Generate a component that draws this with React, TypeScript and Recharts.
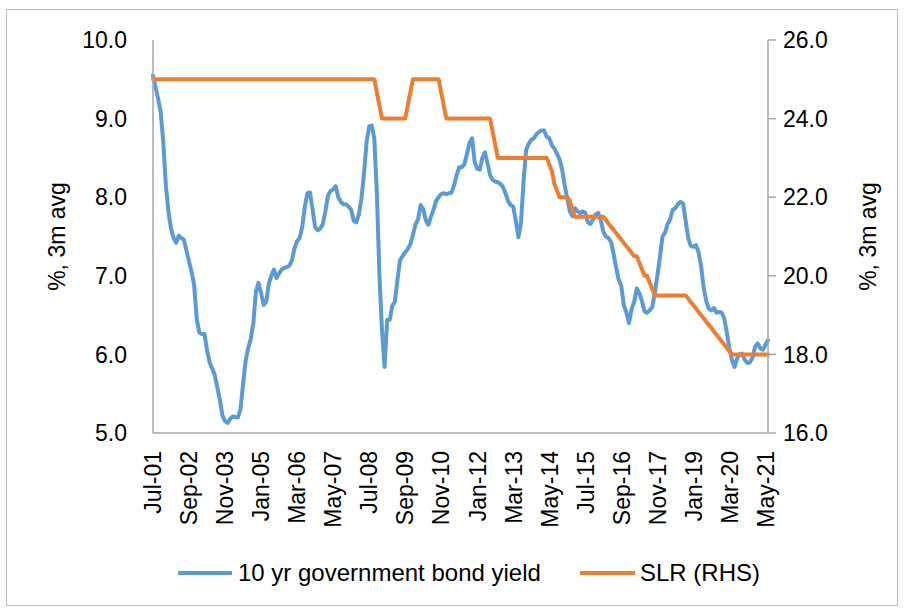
import React from 'react';
import { LineChart, Line, XAxis, YAxis } from 'recharts';

// Monthly categories Jul-01 .. Jun-21
const monthNames = ['Jan', 'Feb', 'Mar', 'Apr', 'May', 'Jun', 'Jul', 'Aug', 'Sep', 'Oct', 'Nov', 'Dec'];
const startYear = 2001;
const startMonth = 6; // July (0-based)
const monthCount = 240;
const categories: string[] = [];
for (let k = 0; k < monthCount; k++) {
  const m = (startMonth + k) % 12;
  const y = startYear + Math.floor((startMonth + k) / 12);
  categories.push(`${monthNames[m]}-${String(y % 100).padStart(2, '0')}`);
}

// 10 yr government bond yield, %, 3m avg
const bondYield: number[] = [
  9.55, 9.40, 9.25, 9.08, 8.70, 8.15, 7.82, 7.60, 7.48, 7.42, 7.51, 7.48,
  7.46, 7.32, 7.18, 7.05, 6.88, 6.45, 6.28, 6.26, 6.26, 6.05, 5.90, 5.82,
  5.74, 5.58, 5.42, 5.22, 5.15, 5.13, 5.18, 5.21, 5.20, 5.20, 5.30, 5.62,
  5.92, 6.08, 6.20, 6.40, 6.80, 6.91, 6.78, 6.63, 6.67, 6.90, 7.00, 7.08,
  6.97, 7.03, 7.08, 7.10, 7.11, 7.13, 7.20, 7.35, 7.44, 7.48, 7.62, 7.88,
  8.05, 8.06, 7.85, 7.62, 7.58, 7.60, 7.66, 7.82, 8.02, 8.08, 8.10, 8.14,
  8.00, 7.94, 7.91, 7.91, 7.88, 7.84, 7.70, 7.68, 7.78, 7.98, 8.30, 8.70,
  8.90, 8.91, 8.75, 8.05, 7.00, 6.30, 5.84, 6.44, 6.44, 6.62, 6.67, 6.95,
  7.20, 7.25, 7.30, 7.34, 7.40, 7.52, 7.65, 7.72, 7.90, 7.85, 7.71, 7.65,
  7.75, 7.84, 7.95, 8.00, 8.04, 8.05, 8.04, 8.05, 8.06, 8.15, 8.28, 8.38,
  8.38, 8.42, 8.55, 8.69, 8.75, 8.45, 8.36, 8.35, 8.50, 8.57, 8.43, 8.28,
  8.22, 8.20, 8.19, 8.17, 8.13, 8.05, 7.95, 7.90, 7.88, 7.70, 7.49, 7.67,
  8.20, 8.60, 8.68, 8.73, 8.75, 8.80, 8.83, 8.85, 8.85, 8.77, 8.75, 8.66,
  8.62, 8.55, 8.48, 8.35, 8.15, 7.98, 7.82, 7.76, 7.86, 7.82, 7.80, 7.82,
  7.80, 7.68, 7.66, 7.72, 7.78, 7.80, 7.71, 7.56, 7.50, 7.48, 7.43, 7.28,
  7.10, 6.95, 6.87, 6.62, 6.53, 6.40, 6.58, 6.67, 6.84, 6.78, 6.68, 6.55,
  6.53, 6.56, 6.60, 6.78, 7.00, 7.24, 7.50, 7.55, 7.66, 7.72, 7.84, 7.86,
  7.91, 7.94, 7.92, 7.70, 7.48, 7.38, 7.37, 7.39, 7.30, 7.12, 6.85, 6.68,
  6.58, 6.56, 6.59, 6.53, 6.54, 6.53, 6.46, 6.28, 6.08, 5.93, 5.84, 5.95,
  6.00, 6.01, 5.93, 5.89, 5.90, 5.96, 6.10, 6.14, 6.08, 6.06, 6.12, 6.18,
];

// SLR (RHS), %, 3m avg
const slrRate: number[] = [
  25, 25, 25, 25, 25, 25, 25, 25, 25, 25, 25, 25,
  25, 25, 25, 25, 25, 25, 25, 25, 25, 25, 25, 25,
  25, 25, 25, 25, 25, 25, 25, 25, 25, 25, 25, 25,
  25, 25, 25, 25, 25, 25, 25, 25, 25, 25, 25, 25,
  25, 25, 25, 25, 25, 25, 25, 25, 25, 25, 25, 25,
  25, 25, 25, 25, 25, 25, 25, 25, 25, 25, 25, 25,
  25, 25, 25, 25, 25, 25, 25, 25, 25, 25, 25, 25,
  25, 25, 25, 24.67, 24.33, 24, 24, 24, 24, 24, 24, 24,
  24, 24, 24, 24.33, 24.67, 25, 25, 25, 25, 25, 25, 25,
  25, 25, 25, 25, 24.67, 24.33, 24, 24, 24, 24, 24, 24,
  24, 24, 24, 24, 24, 24, 24, 24, 24, 24, 24, 24,
  23.67, 23.33, 23, 23, 23, 23, 23, 23, 23, 23, 23, 23,
  23, 23, 23, 23, 23, 23, 23, 23, 23, 23, 22.83, 22.67,
  22.33, 22.17, 22, 22, 22, 22, 21.9, 21.67, 21.5, 21.5, 21.5, 21.5,
  21.5, 21.5, 21.5, 21.5, 21.5, 21.5, 21.5, 21.5, 21.42, 21.33, 21.25, 21.17,
  21.08, 21.0, 20.92, 20.83, 20.75, 20.67, 20.58, 20.5, 20.5, 20.33, 20.17, 20.0,
  20.0, 19.83, 19.67, 19.5, 19.5, 19.5, 19.5, 19.5, 19.5, 19.5, 19.5, 19.5,
  19.5, 19.5, 19.5, 19.5, 19.42, 19.33, 19.25, 19.17, 19.08, 19.0, 18.92, 18.83,
  18.75, 18.67, 18.58, 18.5, 18.42, 18.33, 18.25, 18.17, 18.08, 18, 18, 18,
  18, 18, 18, 18, 18, 18, 18, 18, 18, 18, 18, 18,
];

const leftTicks = [5, 6, 7, 8, 9, 10];
const rightTicks = [16, 18, 20, 22, 24, 26];
const seriesNames = ['10 yr government bond yield', 'SLR (RHS)'];
const axisTitle = '%, 3m avg';

const BLUE = '#5B9BD5';
const ORANGE = '#ED7D31';
const AXIS = '#A6A6A6';
const FONT = "'Liberation Sans', Arial, sans-serif";
const FS = 23;
const LEGEND_FS = 24;

const data = categories.map((c, i) => ({ month: c, yield: bondYield[i], slr: slrRate[i] }));

const XTick = (props: any) => {
  const { x, y, payload } = props;
  return (
    <g transform={`translate(${x},${y})`}>
      <text x={0} y={0} dy="0.36em" transform="rotate(-90)" textAnchor="end" fill="#000" fontSize={FS} fontFamily={FONT}>
        {payload.value}
      </text>
    </g>
  );
};

const makeTitle = (dx: number) => (props: any) => {
  const vb = props.viewBox || { x: 0, y: 0, width: 0, height: 0 };
  const cx = vb.x + dx;
  const cy = vb.y + vb.height / 2;
  return (
    <text x={cx} y={cy} transform={`rotate(-90, ${cx}, ${cy})`} textAnchor="middle" dominantBaseline="central" fill="#000" fontSize={FS} fontFamily={FONT}>
      {axisTitle}
    </text>
  );
};

export default function App() {
  return (
    <div style={{ position: 'absolute', left: 0, top: 0, width: 904, height: 610, background: '#fff' }}>
      <div style={{ position: 'absolute', left: 6, top: 9, width: 892, height: 597, border: '1px solid #BFBFBF', boxSizing: 'border-box' }} />
      <div style={{ position: 'absolute', left: 0, top: 0 }}>
        <LineChart width={904} height={610} data={data} margin={{ top: 40, right: 26, bottom: 77, left: 43 }}>
          <XAxis
            dataKey="month"
            interval={13}
            tick={<XTick />}
            tickLine={false}
            tickSize={0}
            tickMargin={18}
            axisLine={{ stroke: AXIS, strokeWidth: 1.5 }}
            height={100}
          />
          <YAxis
            yAxisId="left"
            orientation="left"
            domain={[5, 10]}
            ticks={leftTicks}
            allowDataOverflow
            tickFormatter={(v: number) => v.toFixed(1)}
            tickLine={false}
            tickSize={0}
            tickMargin={26}
            axisLine={{ stroke: AXIS, strokeWidth: 1.5 }}
            tick={{ fill: '#000', fontSize: FS, fontFamily: FONT }}
            width={110}
            label={makeTitle(14)}
          />
          <YAxis
            yAxisId="right"
            orientation="right"
            domain={[16, 26]}
            ticks={rightTicks}
            allowDataOverflow
            tickFormatter={(v: number) => v.toFixed(1)}
            tickLine={{ stroke: AXIS, strokeWidth: 1.5 }}
            tickSize={8}
            tickMargin={7}
            axisLine={{ stroke: AXIS, strokeWidth: 1.5 }}
            tick={{ fill: '#000', fontSize: FS, fontFamily: FONT }}
            width={110}
            label={makeTitle(100)}
          />
          <Line yAxisId="left" type="linear" dataKey="yield" name={seriesNames[0]} stroke={BLUE} strokeWidth={4} dot={false} isAnimationActive={false} strokeLinejoin="round" strokeLinecap="round" />
          <Line yAxisId="right" type="linear" dataKey="slr" name={seriesNames[1]} stroke={ORANGE} strokeWidth={4} dot={false} isAnimationActive={false} strokeLinejoin="round" strokeLinecap="round" />
        </LineChart>
      </div>
      <div style={{ position: 'absolute', left: 0, top: 556, width: 904, height: 36, fontFamily: FONT, fontSize: LEGEND_FS, color: '#000' }}>
        <div style={{ position: 'absolute', left: 178, top: 15, width: 54, height: 4, background: BLUE }} />
        <span style={{ position: 'absolute', left: 238, top: 0, lineHeight: '34px', whiteSpace: 'nowrap' }}>{seriesNames[0]}</span>
        <div style={{ position: 'absolute', left: 580, top: 15, width: 55, height: 4, background: ORANGE }} />
        <span style={{ position: 'absolute', left: 640, top: 0, lineHeight: '34px', whiteSpace: 'nowrap' }}>{seriesNames[1]}</span>
      </div>
    </div>
  );
}
